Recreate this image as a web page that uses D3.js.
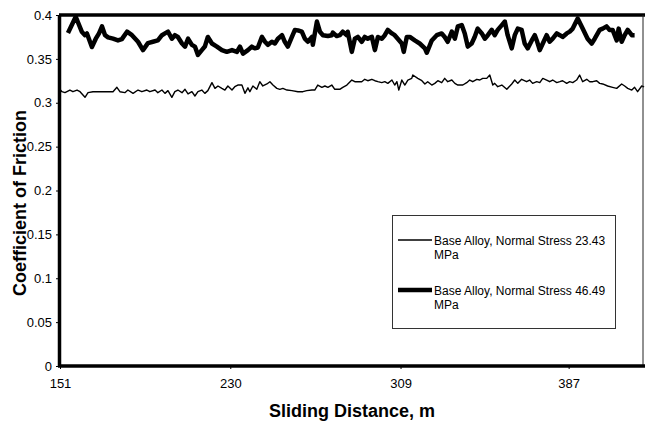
<!DOCTYPE html>
<html><head><meta charset="utf-8">
<script src="https://cdn.jsdelivr.net/npm/d3@7"></script>
<style>body{margin:0;background:#fff}svg{display:block}text{font-family:"Liberation Sans",Arial,sans-serif}</style>
</head><body><svg id="c" width="646" height="424"></svg>
<script>
// Sliding distance (m) and coefficient of friction, 23.43 MPa
const dist23 = [151,151.9,153.3,155.6,157,158.9,160.3,162.6,164,166.3,175.6,177.4,178.8,181.1,182.5,184.9,187.2,189,191.3,192.7,195.1,196.4,198.3,199.7,201.1,202.9,204.3,205.7,207.6,209,210.4,212.2,213.6,215,216.8,218.2,219.6,221.5,222.9,224.3,226.1,227.5,228.9,230.8,232.1,233.5,235.4,236.8,238.2,239.1,240.5,242.3,243.7,245.1,247,248.4,249.8,251.6,253,254.4,256.3,258.6,261.4,263.7,265.5,267.9,269.2,270.6,272.5,273.9,275.3,277.1,278.5,280.8,282.2,284.1,286.4,287.8,289.2,291,292.4,293.8,295.7,297.1,298.5,300.3,301.7,303.1,305,306.3,307.3,308.2,309.6,311,312.4,314.2,314.7,317,318.9,320.3,321.6,323.5,324.9,326.3,328.1,329.5,330.9,332.8,334.2,335.6,337.9,339.7,341.1,342.5,344.4,345.8,347.1,349,350.4,351.8,352.7,354.1,356,358.3,360.6,362,363.4,365.2,367.5,368.9,370.3,372.2,373.6,375,376.8,378.2,379.6,381.5,382.9,384.2,386.1,387.5,388.9,390.7,392.1,393.5,395.4,396.8,398.2,400,401.4,402.8,405.1,407.4,409.3,411.6,413,414.4,416.3,417.6,419,420.9,422];
const cof23 = [0.3153,0.3126,0.3115,0.3145,0.3126,0.3145,0.3126,0.3062,0.3115,0.3126,0.3126,0.3176,0.3126,0.3115,0.3145,0.3107,0.3145,0.3126,0.3145,0.3126,0.3145,0.3115,0.3145,0.3107,0.3138,0.3062,0.3126,0.3145,0.3115,0.3153,0.31,0.3126,0.3077,0.3126,0.3145,0.3107,0.3138,0.3229,0.3164,0.3191,0.3164,0.3145,0.3191,0.3145,0.3183,0.3202,0.3202,0.3107,0.317,0.3126,0.3191,0.3153,0.324,0.3191,0.3214,0.324,0.3202,0.3164,0.3153,0.3164,0.3145,0.3138,0.3126,0.3126,0.3138,0.3145,0.3145,0.3202,0.3176,0.3191,0.3176,0.3202,0.3153,0.3153,0.3176,0.3202,0.3259,0.324,0.324,0.324,0.3267,0.3251,0.3267,0.3251,0.324,0.3229,0.324,0.3221,0.3259,0.3202,0.324,0.3145,0.3259,0.3202,0.3259,0.3278,0.3316,0.3278,0.3251,0.3214,0.324,0.3202,0.3221,0.3251,0.3229,0.3278,0.324,0.3259,0.3221,0.3202,0.3202,0.3229,0.3259,0.324,0.3267,0.3259,0.3278,0.3278,0.3316,0.3202,0.3221,0.3183,0.3202,0.3153,0.3214,0.3259,0.3221,0.3267,0.324,0.3259,0.3221,0.324,0.3229,0.3278,0.3259,0.324,0.3259,0.3229,0.324,0.3251,0.3221,0.324,0.3229,0.3259,0.3316,0.324,0.3267,0.324,0.324,0.3251,0.3221,0.3214,0.3191,0.3176,0.3164,0.3214,0.3191,0.3164,0.3145,0.3176,0.3126,0.3191,0.318];
// 46.49 MPa
const dist46 = [154.7,158.3,161.1,162.6,163.5,165.8,167.6,169.1,170.5,171.9,173.3,175.6,177.9,179.7,182.1,184.4,187.2,189.5,191.8,194.1,196.4,198.3,199.7,201.1,202.9,204.3,205.7,207.6,209,210.4,212.2,213.6,215,216.8,218.2,219.6,221.5,223.8,226.1,228.4,230.8,233.1,234.5,235.9,238.2,240,241.4,242.8,244.7,246.1,247.5,249.3,250.7,252.1,254,255.3,256.7,258.6,260,261.4,263.2,264.6,266,267.9,268.3,270.2,271.6,273,275.3,277.1,277.6,279.4,280.8,282.2,284.1,284.5,286.4,287.8,289.2,291,292.4,293.8,295.7,297.1,298.5,300.3,301.7,303.1,305,306.3,307.7,309.6,310.5,311.9,313.3,315.6,317.9,320.3,321.2,323.5,325.8,328.1,329.5,330.9,332.8,334.2,335.6,337.4,338.8,340.2,342,343.4,344.8,346.7,348.1,349.5,351.3,352.7,354.1,356,357.4,358.7,360.6,362,363.4,365.2,366.6,368,369.9,371.3,372.2,373.6,375,376.8,378.2,379.6,381.5,382.9,384.2,386.1,387.5,388.9,391.2,393.5,395.8,397.7,399.1,401.4,402.8,404.6,406,407.4,409.3,410.2,411.6,413,414.4,416.3,417.6];
const cof46 = [0.3795,0.398,0.381,0.377,0.379,0.3635,0.373,0.379,0.387,0.377,0.3745,0.373,0.371,0.3725,0.381,0.377,0.3695,0.36,0.368,0.3695,0.371,0.377,0.379,0.381,0.373,0.377,0.375,0.3675,0.364,0.373,0.366,0.364,0.3545,0.36,0.364,0.375,0.3675,0.364,0.36,0.358,0.36,0.358,0.364,0.356,0.36,0.364,0.362,0.363,0.375,0.3695,0.366,0.3695,0.3675,0.373,0.377,0.3695,0.364,0.375,0.383,0.3825,0.381,0.373,0.3695,0.375,0.366,0.3925,0.381,0.377,0.376,0.377,0.38,0.376,0.377,0.381,0.377,0.381,0.358,0.373,0.375,0.3695,0.375,0.373,0.375,0.36,0.375,0.373,0.377,0.383,0.379,0.377,0.373,0.3675,0.358,0.375,0.375,0.371,0.3675,0.362,0.357,0.371,0.377,0.379,0.375,0.3695,0.381,0.373,0.387,0.3885,0.379,0.364,0.3675,0.375,0.3845,0.379,0.373,0.377,0.383,0.377,0.383,0.3885,0.3925,0.377,0.362,0.377,0.3845,0.383,0.3675,0.362,0.371,0.377,0.371,0.36,0.3675,0.377,0.3695,0.373,0.379,0.377,0.375,0.379,0.381,0.3845,0.396,0.3845,0.373,0.3675,0.373,0.383,0.3845,0.387,0.383,0.383,0.371,0.3845,0.3695,0.377,0.383,0.377,0.377];
const xTickLabels = [151, 230, 309, 387];
const yTickLabels = [0, 0.05, 0.1, 0.15, 0.2, 0.25, 0.3, 0.35, 0.4];
const seriesNames = ["Base Alloy, Normal Stress 23.43 MPa", "Base Alloy, Normal Stress 46.49 MPa"];

const svg = d3.select("#c");
const L = 60, R = 643, T = 15, B = 366;
const x = d3.scaleLinear().domain([151, 421.5]).range([L, R]);
const y = d3.scaleLinear().domain([0, 0.4]).range([B, T]);

// series
const line = d3.line().x(d => x(d[0])).y(d => y(d[1]));
svg.append("path").datum(dist23.map((d, i) => [d, cof23[i]]))
  .attr("d", line).attr("fill", "none").attr("stroke", "#000").attr("stroke-width", 1.4).attr("stroke-linejoin", "round");
svg.append("path").datum(dist46.map((d, i) => [d, cof46[i]]))
  .attr("d", line).attr("fill", "none").attr("stroke", "#000").attr("stroke-width", 4.5).attr("stroke-linejoin", "round");

// frame
svg.append("line").attr("x1", L - 1).attr("x2", R + 2).attr("y1", T).attr("y2", T).attr("stroke", "#000").attr("stroke-width", 3.5);
svg.append("line").attr("x1", R).attr("x2", R).attr("y1", T).attr("y2", B).attr("stroke", "#222").attr("stroke-width", 1);

// axes
const yAxis = svg.append("g").attr("transform", `translate(${L - 1},0)`)
  .call(d3.axisLeft(y).tickValues(yTickLabels).tickSize(3).tickSizeOuter(0).tickFormat(d => String(d)));
yAxis.select(".domain").attr("stroke-width", 3.5);
yAxis.selectAll("text").attr("font-size", 13).attr("fill", "#000").attr("x", -7);
yAxis.selectAll(".tick line").attr("stroke", "#000");

const xAxis = svg.append("g").attr("transform", `translate(0,${B})`)
  .call(d3.axisBottom(x).tickValues(xTickLabels).tickSize(3).tickSizeOuter(0).tickFormat(d => String(d)));
xAxis.select(".domain").attr("stroke-width", 3.5).attr("d", `M${L - 2},0H${R + 2}`);
xAxis.selectAll("text").attr("font-size", 13).attr("fill", "#000").attr("dy", "0").attr("y", 22);

// titles
svg.append("text").attr("x", 352).attr("y", 417).attr("text-anchor", "middle")
  .attr("font-size", 18).attr("font-weight", "bold").text("Sliding Distance, m");
svg.append("text").attr("transform", "translate(26,203) rotate(-90)").attr("text-anchor", "middle")
  .attr("font-size", 18).attr("font-weight", "bold").text("Coefficient of Friction");

// legend
const lg = svg.append("g");
lg.append("rect").attr("x", 392.5).attr("y", 215.5).attr("width", 223).attr("height", 113)
  .attr("fill", "#fff").attr("stroke", "#333").attr("stroke-width", 1);
const entries = [{ y: 240, w: 1.4, t: seriesNames[0] }, { y: 290, w: 4.5, t: seriesNames[1] }];
entries.forEach(e => {
  lg.append("line").attr("x1", 398).attr("x2", 432).attr("y1", e.y).attr("y2", e.y)
    .attr("stroke", "#000").attr("stroke-width", e.w);
  const parts = e.t.split(" MPa");
  const t = lg.append("text").attr("x", 434).attr("y", e.y + 5).attr("font-size", 12);
  t.append("tspan").attr("x", 434).text(parts[0]);
  t.append("tspan").attr("x", 434).attr("dy", 13.5).text("MPa");
});
</script></body></html>
